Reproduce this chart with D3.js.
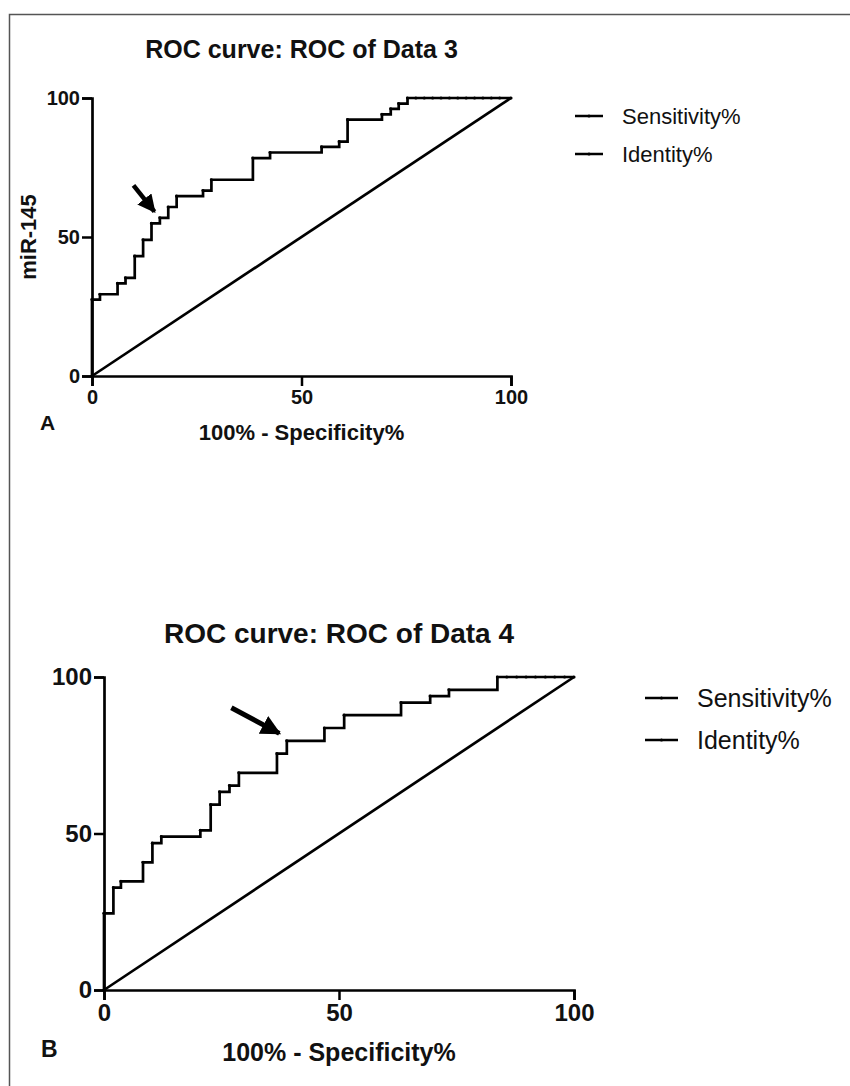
<!DOCTYPE html>
<html>
<head>
<meta charset="utf-8">
<script src="https://cdn.jsdelivr.net/npm/d3@7"></script>
<style>
  body { margin: 0; background: #fff; }
  svg text { font-family: Arial, "Liberation Sans", sans-serif; fill: #111; }
</style>
</head>
<body>
<svg id="fig" width="850" height="1086"></svg>
<script>
// panel A: miR-145, ROC of Data 3
var aTitle = "ROC curve: ROC of Data 3";
var aFpr  = [0, 0, 1.9, 6.1, 8.0, 10.2, 12.2, 14.2, 16.2, 18.2, 20.2, 26.5, 28.5, 38.4, 42.5, 54.8, 59.0, 61.0, 69.2, 71.3, 73.2, 75.3,
             77.3, 79.3, 81.3, 83.3, 85.3, 87.3, 89.3, 91.3, 93.3, 95.3, 97.3, 100];
var aSens = [0, 27.5, 29.4, 33.3, 35.3, 43.1, 49.0, 54.9, 56.9, 60.8, 64.7, 66.7, 70.6, 78.4, 80.4, 82.4, 84.3, 92.2, 94.1, 96.1, 98.0, 100,
             100, 100, 100, 100, 100, 100, 100, 100, 100, 100, 100, 100];
var aArrow = [[9.9, 68.6], [14.9, 59.1]];

// panel B: ROC of Data 4
var bTitle = "ROC curve: ROC of Data 4";
var bFpr  = [0, 0, 2.0, 3.6, 8.3, 10.3, 12.2, 20.5, 22.7, 24.6, 26.7, 28.7, 36.8, 38.9, 46.9, 51.1, 63.2, 69.4, 73.4, 83.7,
             85.7, 87.8, 89.8, 91.8, 93.9, 95.9, 98.0, 100];
var bSens = [0, 24.5, 32.7, 34.7, 40.8, 46.9, 49.0, 51.0, 59.2, 63.3, 65.3, 69.4, 75.5, 79.6, 83.7, 87.8, 91.8, 93.9, 95.9, 100,
             100, 100, 100, 100, 100, 100, 100, 100];
var bArrow = [[27.1, 90.2], [37.3, 82.0]];

var identity = [[0, 0], [100, 100]];
var ticks = [0, 50, 100];
var legendLabels = ["Sensitivity%", "Identity%"];

var svg = d3.select("#fig");

// outer frame
svg.append("rect")
  .attr("x", 9.5).attr("y", 14.5)
  .attr("width", 1000).attr("height", 1200)
  .attr("fill", "none").attr("stroke", "#555").attr("stroke-width", 1.5);

svg.append("defs").append("marker")
  .attr("id", "head").attr("viewBox", "0 0 10 10")
  .attr("refX", 9).attr("refY", 5)
  .attr("markerWidth", 4).attr("markerHeight", 4)
  .attr("orient", "auto")
  .append("path").attr("d", "M0,0L10,5L0,10z").attr("fill", "#000");

function panel(o) {
  var x = d3.scaleLinear().domain([0, 100]).range([o.left, o.right]);
  var y = d3.scaleLinear().domain([0, 100]).range([o.bottom, o.top]);
  var g = svg.append("g");

  g.append("text")
    .attr("x", (o.left + o.right) / 2).attr("y", o.titleY)
    .attr("text-anchor", "middle")
    .style("font-weight", "bold").style("font-size", o.titleSize + "px")
    .text(o.title);

  // identity line
  g.append("path")
    .datum(identity)
    .attr("d", d3.line().x(function (d) { return x(d[0]); }).y(function (d) { return y(d[1]); }))
    .attr("fill", "none").attr("stroke", "#000").attr("stroke-width", 2.7);

  // roc staircase
  var pts = o.fpr.map(function (v, i) { return [v, o.sens[i]]; });
  g.append("path")
    .datum(pts)
    .attr("d", d3.line().curve(d3.curveStepAfter)
      .x(function (d) { return x(d[0]); }).y(function (d) { return y(d[1]); }))
    .attr("fill", "none").attr("stroke", "#000").attr("stroke-width", 2.7);
  g.selectAll("circle.pt").data(pts).enter().append("circle")
    .attr("cx", function (d) { return x(d[0]); })
    .attr("cy", function (d) { return y(d[1]); })
    .attr("r", 1.6).attr("fill", "#000");

  // axes
  var xAxis = d3.axisBottom(x).tickValues(ticks).tickSize(10).tickPadding(o.xPad);
  var yAxis = d3.axisLeft(y).tickValues(ticks).tickSize(10).tickPadding(2);
  var gx = g.append("g").attr("transform", "translate(0," + o.bottom + ")").call(xAxis);
  var gy = g.append("g").attr("transform", "translate(" + o.left + ",0)").call(yAxis);
  [gx, gy].forEach(function (a) {
    a.select(".domain").attr("stroke", "#000").attr("stroke-width", 2.7);
    a.selectAll(".tick line").attr("stroke", "#000").attr("stroke-width", 2.5);
    a.selectAll(".tick text").style("font-size", o.tickSize + "px").style("font-weight", "bold")
      .attr("fill", "#111").attr("font-family", null);
  });

  g.append("text")
    .attr("x", (o.left + o.right) / 2).attr("y", o.xTitleY)
    .attr("text-anchor", "middle")
    .style("font-weight", "bold").style("font-size", o.axisSize + "px")
    .text("100% - Specificity%");

  if (o.yTitle) {
    g.append("text")
      .attr("transform", "translate(" + o.yTitleX + "," + ((o.top + o.bottom) / 2) + ") rotate(-90)")
      .attr("text-anchor", "middle")
      .style("font-weight", "bold").style("font-size", o.axisSize + "px")
      .text(o.yTitle);
  }

  g.append("text")
    .attr("x", o.letterX).attr("y", o.letterY)
    .style("font-weight", "bold").style("font-size", o.letterSize + "px")
    .text(o.letter);

  // arrow
  g.append("line")
    .attr("x1", x(o.arrow[0][0])).attr("y1", y(o.arrow[0][1]))
    .attr("x2", x(o.arrow[1][0])).attr("y2", y(o.arrow[1][1]))
    .attr("stroke", "#000").attr("stroke-width", o.arrowW)
    .attr("marker-end", "url(#head)");

  // legend
  var lg = g.append("g").attr("transform", "translate(" + o.legX + "," + o.legY + ")");
  legendLabels.forEach(function (t, i) {
    var row = lg.append("g").attr("transform", "translate(0," + i * o.legGap + ")");
    row.append("line").attr("x1", 0).attr("x2", o.legLen).attr("y1", 0).attr("y2", 0)
      .attr("stroke", "#000").attr("stroke-width", 2.5);
    row.append("circle").attr("cx", o.legLen / 2).attr("cy", 0).attr("r", 1.6).attr("fill", "#000");
    row.append("text").attr("x", o.legLen + 19).attr("y", 0).attr("dy", "0.35em")
      .style("font-size", o.legSize + "px").text(t);
  });
}

panel({
  title: aTitle, fpr: aFpr, sens: aSens, arrow: aArrow, letter: "A", yTitle: "miR-145",
  left: 92, right: 511, top: 98, bottom: 376,
  titleY: 58, titleSize: 25,
  tickSize: 20, xPad: 4, axisSize: 22, xTitleY: 440, yTitleX: 36,
  letterX: 40, letterY: 430, letterSize: 21, arrowW: 4.5,
  legX: 575, legY: 116, legGap: 38, legLen: 28, legSize: 22
});

panel({
  title: bTitle, fpr: bFpr, sens: bSens, arrow: bArrow, letter: "B", yTitle: null,
  left: 104, right: 574, top: 677, bottom: 990,
  titleY: 643, titleSize: 28,
  tickSize: 24, xPad: 4, axisSize: 25, xTitleY: 1061, yTitleX: 40,
  letterX: 41, letterY: 1057, letterSize: 23, arrowW: 5,
  legX: 645, legY: 698, legGap: 42, legLen: 33, legSize: 25
});
</script>
</body>
</html>
